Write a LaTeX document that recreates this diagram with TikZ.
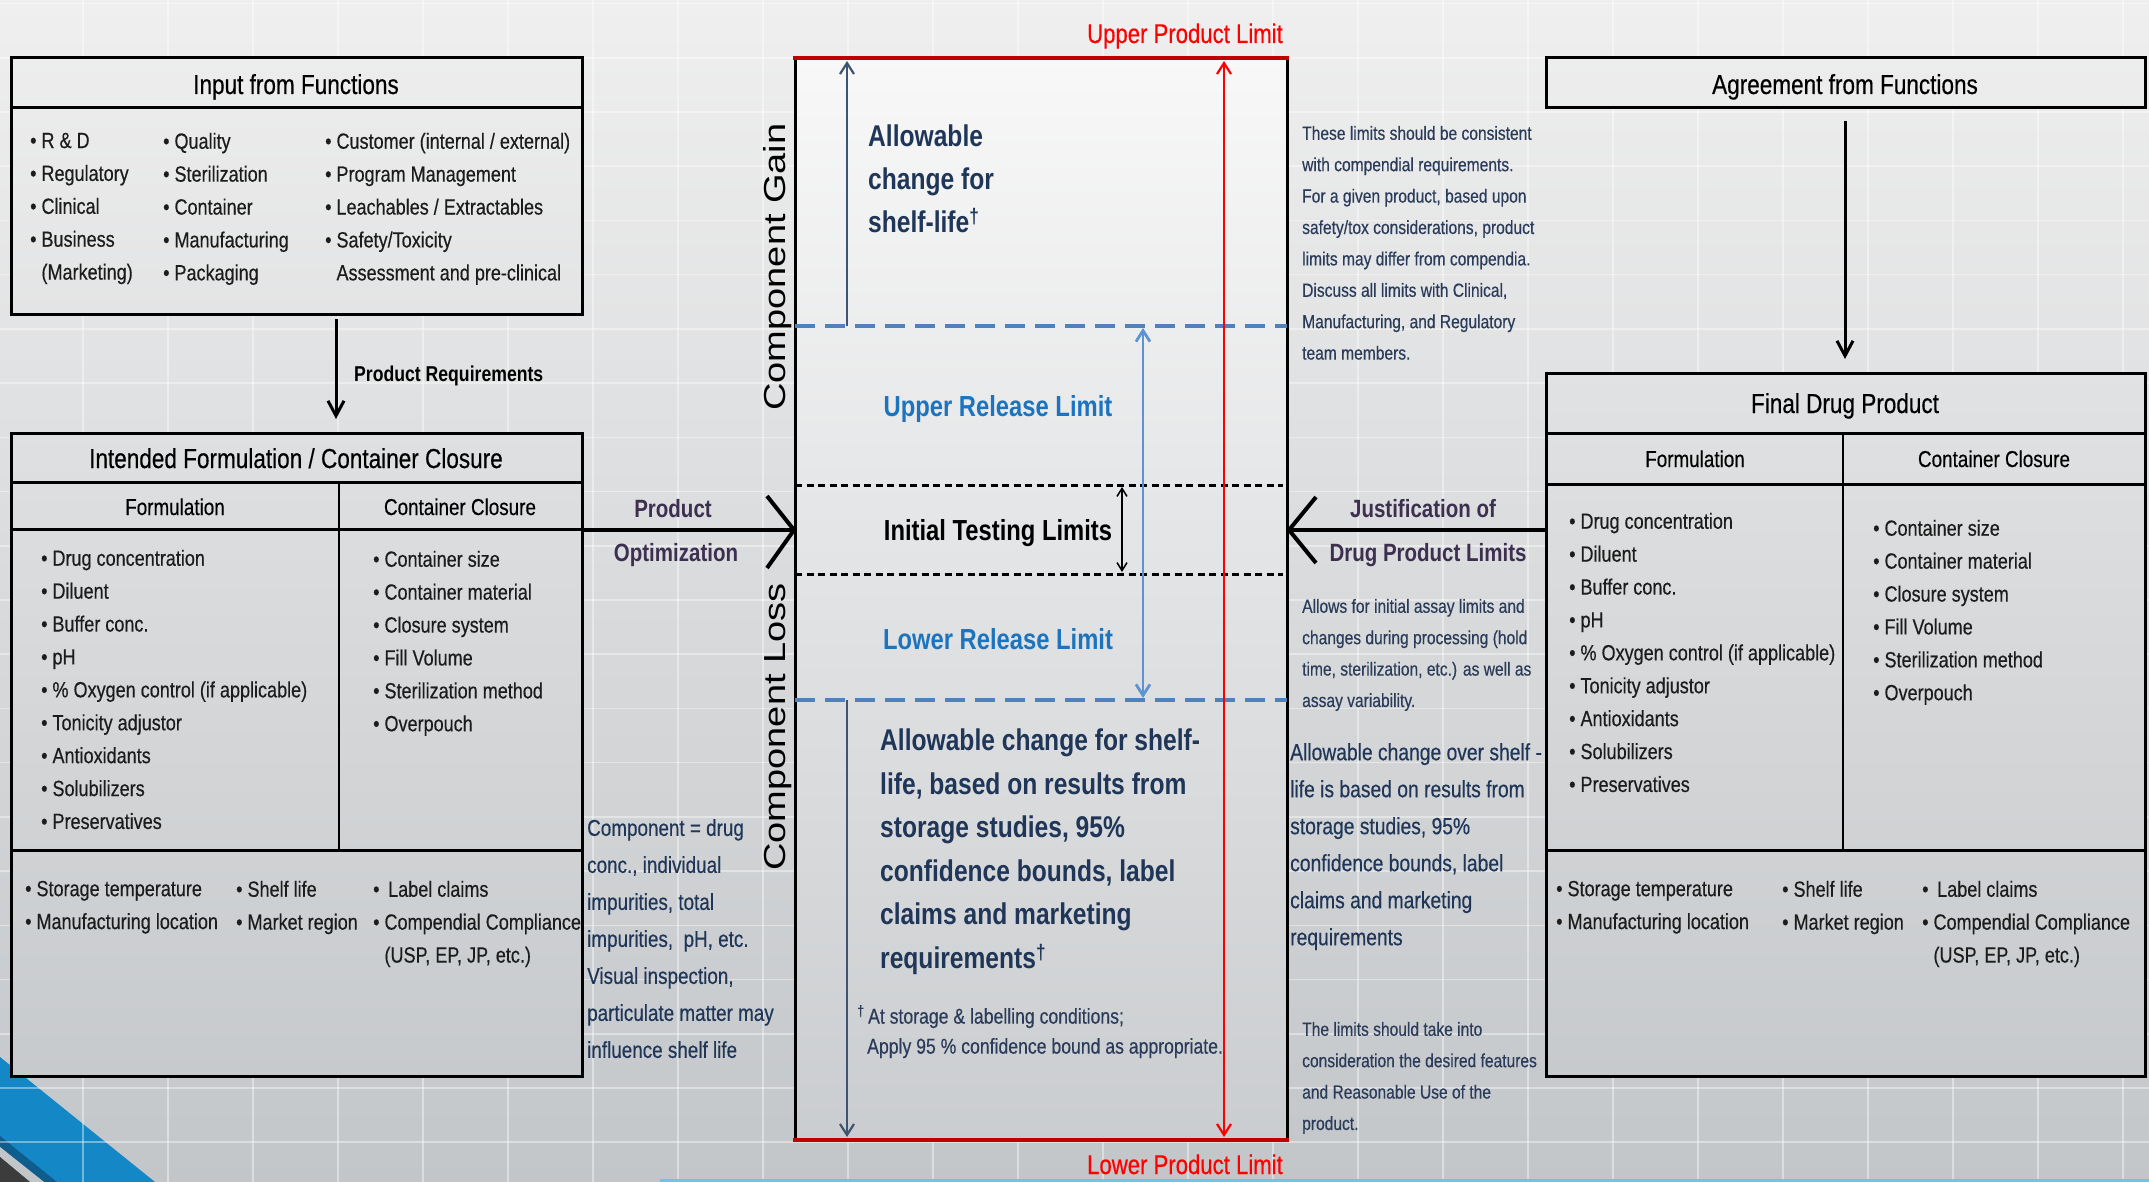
\documentclass[tikz,border=0pt]{standalone}
\usepackage{fontspec}
\setmainfont{Liberation Sans}[FakeStretch=0.82,UprightFeatures={FakeBold=0.4}]
\newfontfamily\widesans{Liberation Sans}
\usetikzlibrary{arrows.meta}

\definecolor{bgtop}{HTML}{EFEFEF}
\definecolor{bgbot}{HTML}{C3C6C9}
\definecolor{ink}{HTML}{1C1C1C}
\definecolor{navy}{HTML}{1F3658}
\definecolor{notecol}{HTML}{2B3C5A}
\definecolor{relblue}{HTML}{1C74BE}
\definecolor{dashblue}{HTML}{4F81BD}
\definecolor{arrowblue}{HTML}{5B93D3}
\definecolor{limred}{HTML}{C00000}
\definecolor{txtred}{HTML}{FF0000}
\definecolor{plum}{HTML}{3D2F4F}
\definecolor{slate}{HTML}{3E5470}
\definecolor{cornerblue}{HTML}{1487C6}
\definecolor{cornerdark}{HTML}{0F5D8C}
\definecolor{charcoal}{HTML}{3C3C3C}
\definecolor{edgecyan}{HTML}{6EC3EA}

\begin{document}
\begin{tikzpicture}[x=1pt,y=-1pt,
  rule/.style={draw=black,line width=3pt},
  thinrule/.style={draw=black,line width=2pt},
  lst/.style={inner sep=0pt,anchor=north west,align=left,text=ink,font=\fontsize{22}{32.9}\selectfont},
  ttl/.style={inner sep=0pt,anchor=base,text=black,font=\fontsize{27.5}{33}\selectfont},
  hdr/.style={inner sep=0pt,anchor=base,text=black,font=\fontsize{23}{28}\selectfont},
  flowlbl/.style={inner sep=0pt,anchor=base,text=plum,font=\bfseries\fontsize{25}{30}\selectfont},
  limlbl/.style={inner sep=0pt,anchor=base east,text=txtred,font=\fontsize{27}{32}\selectfont},
  bigtxt/.style={inner sep=0pt,anchor=north west,align=left,text=navy,font=\bfseries\fontsize{30}{43.5}\selectfont},
  reltxt/.style={inner sep=0pt,anchor=base,text=relblue,font=\bfseries\fontsize{29}{34}\selectfont},
  note/.style={inner sep=0pt,anchor=north west,align=left,text=notecol,font=\fontsize{19}{31.4}\selectfont},
  midnote/.style={inner sep=0pt,anchor=north west,align=left,text=navy,font=\fontsize{23}{37}\selectfont},
  sidetxt/.style={inner sep=0pt,rotate=90,yscale=0.8,text=black,font=\widesans\fontsize{38}{42}\selectfont},
  gridline/.style={white,line width=1.6pt,opacity=0.4},
  flowarrow/.style={draw=black,line width=3pt,-{Straight Barb[length=15pt,width=16pt]}},
  chevron/.style={draw=black,line width=4pt},
  dimarrow/.style={line width=2.2pt,{Straight Barb[length=11pt,width=14pt]}-{Straight Barb[length=11pt,width=14pt]}},
]
\useasboundingbox (0,0) rectangle (2149,1182);

% slide background, corner ornament and faint grid
\shade[top color=bgtop,bottom color=bgbot] (0,0) rectangle (2149,1182);
\fill[cornerblue] (0,1057) -- (155,1182) -- (0,1182) -- cycle;
\fill[cornerdark] (0,1136) -- (57,1182) -- (44,1182) -- (0,1147) -- cycle;
\fill[bgbot] (0,1147) -- (44,1182) -- (30,1182) -- (0,1157) -- cycle;
\fill[charcoal] (0,1157) -- (30,1182) -- (0,1182) -- cycle;
\foreach \gx in {-2,83,...,2149} \draw[gridline] (\gx,0) -- (\gx,1182);
\foreach \gy in {3.5,57.725,...,1182} \draw[gridline] (0,\gy) -- (2149,\gy);
\draw[edgecyan,line width=2.5pt] (660,1180.5) -- (2149,1180.5);

% ---------- left column ----------
\shade[top color=bgbot!5!bgtop,bottom color=bgbot!27!bgtop] (11,58) rectangle (582,314);
\draw[rule] (11,58) rectangle (582,314);
\draw[rule] (11,108) -- (582,108);
\node[ttl] (inputttl) at (296,94) {Input from Functions};
\node[lst] (in1) at (30,132.6) {• R \& D\\• Regulatory\\• Clinical\\• Business\\\phantom{• }(Marketing)};
\node[lst] (in2) at (163,132.6) {• Quality\\• Sterilization\\• Container\\• Manufacturing\\• Packaging};
\node[lst] (in3) at (325,132.6) {• Customer (internal / external)\\• Program Management\\• Leachables / Extractables\\• Safety/Toxicity\\\phantom{• }Assessment and pre-clinical};

\coordinate (reqtop) at (336,319);
\coordinate (reqbot) at (336,419);
\draw[flowarrow] (reqtop) -- (reqbot);
\node[inner sep=0pt,anchor=base west,text=black,font=\bfseries\fontsize{21.5}{26}\selectfont] (reqlbl) at (354,381) {Product Requirements};

\shade[top color=bgbot!37!bgtop,bottom color=bgbot!91!bgtop] (11,433) rectangle (582,1076);
\draw[rule] (11,433) rectangle (582,1076);
\draw[rule] (11,482) -- (582,482);
\draw[rule] (11,529) -- (582,529);
\draw[rule] (11,850) -- (582,850);
\draw[thinrule] (339,482) -- (339,850);
\node[ttl] (intttl) at (296,468) {Intended Formulation / Container Closure};
\node[hdr] (intform) at (175,515) {Formulation};
\node[hdr] (intcc) at (460,515) {Container Closure};
\node[lst] (intf) at (41,549.6) {• Drug concentration\\• Diluent\\• Buffer conc.\\• pH\\• \% Oxygen control (if applicable)\\• Tonicity adjustor\\• Antioxidants\\• Solubilizers\\• Preservatives};
\node[lst] (intc) at (373,550.6) {• Container size\\• Container material\\• Closure system\\• Fill Volume\\• Sterilization method\\• Overpouch};
\node[lst] (intb1) at (25,880.6) {• Storage temperature\\• Manufacturing location};
\node[lst] (intb2) at (236,880.6) {• Shelf life\\• Market region};
\node[lst] (intb3) at (373,880.6) {•\, Label claims\\• Compendial Compliance\\\phantom{• }(USP, EP, JP, etc.)};

% product optimization connector into the limits panel
\coordinate (optstart) at (582,530);
\coordinate (opttip) at (794,530);
\draw[chevron] (optstart) -- (opttip);
\draw[chevron,line join=miter] (767,496) -- (opttip) -- (767,568);
\node[flowlbl] (opt1) at (673,517) {Product};
\node[flowlbl] (opt2) at (676,561) {Optimization};

\node[midnote] (compnote) at (587,819) {Component = drug\\conc., individual\\impurities, total\\impurities,\ \ pH, etc.\\Visual inspection,\\particulate matter may\\influence shelf life};

% ---------- limits panel ----------
\shade[top color=white!55!bgtop,bottom color=white!12!bgbot] (795,58) rectangle (1287,1140);
\draw[line width=3pt] (795,58) -- (795,1140);
\draw[line width=3pt] (1287,58) -- (1287,1140);
\draw[limred,line width=4pt] (793,58) -- (1289,58);
\draw[limred,line width=4pt] (793,1140) -- (1289,1140);
\node[limlbl] (upl) at (1283,43) {Upper Product Limit};
\node[limlbl] (lpl) at (1283,1174) {Lower Product Limit};

\draw[dashblue,line width=4.5pt,dash pattern=on 20pt off 10pt] (795,326) -- (1287,326);
\draw[dashblue,line width=4.5pt,dash pattern=on 20pt off 10pt] (795,700) -- (1287,700);
\draw[black,line width=3pt,dash pattern=on 7pt off 4.5pt] (795,485) -- (1283,485);
\draw[black,line width=3pt,dash pattern=on 7pt off 4.5pt] (795,574) -- (1283,574);

\coordinate (gainlo) at (847,326);
\coordinate (gainhi) at (847,61);
\coordinate (losshi) at (847,700);
\coordinate (losslo) at (847,1137);
\draw[slate,line width=2.2pt,-{Straight Barb[length=11pt,width=14pt]}] (gainlo) -- (gainhi);
\draw[slate,line width=2.2pt,-{Straight Barb[length=11pt,width=14pt]}] (losshi) -- (losslo);

\coordinate (relhi) at (1143,328);
\coordinate (rello) at (1143,698);
\draw[dimarrow,arrowblue,line width=2.8pt] (relhi) -- (rello);
\coordinate (testhi) at (1122,487);
\coordinate (testlo) at (1122,572);
\draw[black,line width=1.5pt,{Straight Barb[length=8pt,width=10pt]}-{Straight Barb[length=8pt,width=10pt]}] (testhi) -- (testlo);
\coordinate (prodhi) at (1224,61);
\coordinate (prodlo) at (1224,1137);
\draw[dimarrow,txtred,line width=2.2pt] (prodhi) -- (prodlo);

\node[sidetxt] (gain) at (778,267) {Component Gain};
\node[sidetxt] (loss) at (778,727) {Component Loss};

\node[bigtxt,font=\bfseries\fontsize{30}{43}\selectfont] (shelfup) at (868,124.6) {Allowable\\change for\\shelf-life\textsuperscript{†}};
\node[reltxt] (url) at (998,416) {Upper Release Limit};
\node[reltxt,text=black] (itl) at (998,540) {Initial Testing Limits};
\node[reltxt] (lrl) at (998,649) {Lower Release Limit};
\node[bigtxt] (shelfdn) at (880,728.6) {Allowable change for shelf-\\life, based on results from\\storage studies, 95\%\\confidence bounds, label\\claims and marketing\\requirements\textsuperscript{†}};
\node[inner sep=0pt,anchor=north west,align=left,text=notecol,font=\fontsize{21.5}{30}\selectfont] (foot) at (857,1005) {\textsuperscript{†}\,At storage \& labelling conditions;\\\hspace*{10pt}Apply 95 \% confidence bound as appropriate.};

% ---------- notes between panel and right column ----------
\node[note] (limitsnote) at (1302,125.8) {These limits should be consistent\\with compendial requirements.\\For a given product, based upon\\safety/tox considerations, product\\limits may differ from compendia.\\Discuss all limits with Clinical,\\Manufacturing, and Regulatory\\team members.};
\coordinate (juststart) at (1546,530);
\coordinate (justtip) at (1289,530);
\draw[chevron] (juststart) -- (justtip);
\draw[chevron,line join=miter] (1316,497) -- (justtip) -- (1316,563);
\node[flowlbl] (just1) at (1423,517) {Justification of};
\node[flowlbl] (just2) at (1428,561) {Drug Product Limits};
\node[note] (assaynote) at (1302,598.8) {Allows for initial assay limits and\\changes during processing (hold\\time, sterilization, etc.) as well as\\assay variability.};
\node[midnote,font=\fontsize{23.5}{37}\selectfont] (overnote) at (1290,743) {Allowable change over shelf -\\life is based on results from\\storage studies, 95\%\\confidence bounds, label\\claims and marketing\\requirements};
\node[note] (usenote) at (1302,1021.8) {The limits should take into\\consideration the desired features\\and Reasonable Use of the\\product.};

% ---------- right column ----------
\shade[top color=bgbot!5!bgtop,bottom color=bgbot!9!bgtop] (1546,58) rectangle (2145,108);
\draw[rule] (1546,58) rectangle (2145,108);
\node[ttl] (agrttl) at (1845,94) {Agreement from Functions};
\coordinate (agrtop) at (1845,121);
\coordinate (agrbot) at (1845,359);
\draw[flowarrow] (agrtop) -- (agrbot);

\shade[top color=bgbot!32!bgtop,bottom color=bgbot!91!bgtop] (1546,373) rectangle (2145,1076);
\draw[rule] (1546,373) rectangle (2145,1076);
\draw[rule] (1546,433) -- (2145,433);
\draw[rule] (1546,484) -- (2145,484);
\draw[rule] (1546,850) -- (2145,850);
\draw[thinrule] (1843,433) -- (1843,850);
\node[ttl] (finttl) at (1845,413) {Final Drug Product};
\node[hdr] (finform) at (1695,467) {Formulation};
\node[hdr] (fincc) at (1994,467) {Container Closure};
\node[lst] (finf) at (1569,512.6) {• Drug concentration\\• Diluent\\• Buffer conc.\\• pH\\• \% Oxygen control (if applicable)\\• Tonicity adjustor\\• Antioxidants\\• Solubilizers\\• Preservatives};
\node[lst] (finc) at (1873,519.6) {• Container size\\• Container material\\• Closure system\\• Fill Volume\\• Sterilization method\\• Overpouch};
\node[lst] (finb1) at (1556,880.6) {• Storage temperature\\• Manufacturing location};
\node[lst] (finb2) at (1782,880.6) {• Shelf life\\• Market region};
\node[lst] (finb3) at (1922,880.6) {•\, Label claims\\• Compendial Compliance\\\phantom{• }(USP, EP, JP, etc.)};
\end{tikzpicture}
\end{document}
